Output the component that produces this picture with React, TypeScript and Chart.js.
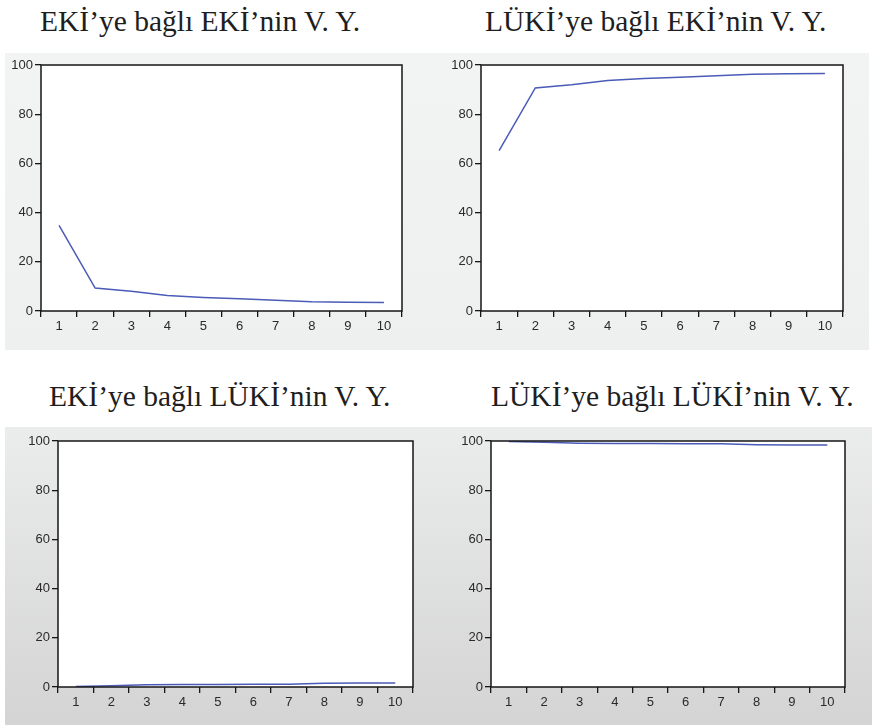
import React, { useEffect, useRef } from "react";
import { Chart, registerables } from "chart.js";

Chart.register(...registerables);

// ---- data ----
const periods = ["1", "2", "3", "4", "5", "6", "7", "8", "9", "10"];
const yTickValues = [0, 20, 40, 60, 80, 100];

const ekiByEki = [34.8, 9.3, 8.0, 6.3, 5.5, 5.0, 4.4, 3.8, 3.6, 3.5];
const ekiByLuki = [65.2, 90.7, 92.0, 93.7, 94.5, 95.0, 95.6, 96.2, 96.4, 96.5];
const lukiByEki = [0.2, 0.5, 0.9, 1.0, 1.0, 1.1, 1.1, 1.5, 1.6, 1.6];
const lukiByLuki = [99.8, 99.5, 99.1, 99.0, 99.0, 98.9, 98.9, 98.5, 98.4, 98.4];

const titleEkiEki = "EKİ’ye bağlı EKİ’nin V. Y.";
const titleLukiEki = "LÜKİ’ye bağlı EKİ’nin V. Y.";
const titleEkiLuki = "EKİ’ye bağlı LÜKİ’nin V. Y.";
const titleLukiLuki = "LÜKİ’ye bağlı LÜKİ’nin V. Y.";

// ---- layout ----
const AXIS_W = 40;
const AXIS_H = 30;
const PAD_T = 12;
const PAD_R = 8;

type Box = { left: number; top: number; right: number; bottom: number };

const framePlugin = {
  id: "frame",
  beforeDraw(chart: any) {
    const { ctx, chartArea: a } = chart;
    ctx.save();
    ctx.fillStyle = "#ffffff";
    ctx.fillRect(a.left, a.top, a.right - a.left, a.bottom - a.top);
    ctx.restore();
  },
  afterDraw(chart: any) {
    const { ctx, chartArea: a } = chart;
    ctx.save();
    ctx.strokeStyle = "#161616";
    ctx.lineWidth = 1.5;
    ctx.strokeRect(a.left, a.top, a.right - a.left, a.bottom - a.top);
    ctx.restore();
  },
};

function Panel({ values, box }: { values: number[]; box: Box }) {
  const ref = useRef<HTMLCanvasElement | null>(null);
  const w = box.right - box.left + AXIS_W + PAD_R;
  const h = box.bottom - box.top + PAD_T + AXIS_H;

  useEffect(() => {
    if (!ref.current) return;
    const tickFont = { family: "'Liberation Sans', Arial, sans-serif", size: 13 };
    const chart = new Chart(ref.current, {
      type: "line",
      data: {
        labels: periods,
        datasets: [
          {
            data: values,
            borderColor: "#4a5bb8",
            borderWidth: 1.5,
            pointRadius: 0,
            tension: 0,
            fill: false,
          },
        ],
      },
      options: {
        animation: false,
        responsive: false,
        maintainAspectRatio: false,
        devicePixelRatio: 1,
        events: [],
        layout: { padding: { top: PAD_T, right: PAD_R, left: 0, bottom: 0 } },
        plugins: {
          legend: { display: false },
          tooltip: { enabled: false },
          title: { display: false },
        },
        scales: {
          x: {
            type: "category",
            offset: true,
            grid: {
              offset: true,
              drawOnChartArea: false,
              drawTicks: true,
              tickLength: 6,
              color: "#161616",
              lineWidth: 1.3,
            },
            border: { display: false },
            ticks: {
              color: "#2a2a2a",
              font: tickFont,
              padding: 2,
              maxRotation: 0,
              autoSkip: false,
            },
            afterFit: (s: any) => {
              s.height = AXIS_H;
            },
          },
          y: {
            min: 0,
            max: 100,
            afterBuildTicks: (s: any) => {
              s.ticks = yTickValues.map((v) => ({ value: v }));
            },
            grid: {
              drawOnChartArea: false,
              drawTicks: true,
              tickLength: 6,
              color: "#161616",
              lineWidth: 1.3,
            },
            border: { display: false },
            ticks: { color: "#2a2a2a", font: tickFont, padding: 2 },
            afterFit: (s: any) => {
              s.width = AXIS_W;
            },
          },
        },
      } as any,
      plugins: [framePlugin],
    });
    return () => chart.destroy();
  }, [values]);

  return (
    <canvas
      ref={ref}
      width={w}
      height={h}
      style={{
        position: "absolute",
        left: box.left - AXIS_W,
        top: box.top - PAD_T,
        width: w,
        height: h,
      }}
    />
  );
}

const TITLE_SIZE = 29.5;
function Title({ text, left, baseline }: { text: string; left: number; baseline: number }) {
  return (
    <div
      style={{
        position: "absolute",
        left,
        top: baseline - TITLE_SIZE * 0.8375,
        fontFamily: "'Liberation Serif', 'Times New Roman', serif",
        fontSize: TITLE_SIZE,
        lineHeight: 1,
        color: "#1e1e1e",
        whiteSpace: "nowrap",
      }}
    >
      {text}
    </div>
  );
}

export default function App() {
  return (
    <div
      style={{
        position: "fixed",
        left: 0,
        top: 0,
        width: 872,
        height: 727,
        background: "#ffffff",
        overflow: "hidden",
      }}
    >
      <div
        style={{
          position: "absolute",
          left: 5,
          top: 53,
          width: 864,
          height: 297,
          background: "linear-gradient(#f2f3f3, #eeefef)",
        }}
      />
      <div
        style={{
          position: "absolute",
          left: 5,
          top: 427,
          width: 867,
          height: 298,
          background: "linear-gradient(#ebecec, #d4d4d4)",
        }}
      />
      <Title text={titleEkiEki} left={40} baseline={32} />
      <Title text={titleLukiEki} left={485} baseline={32} />
      <Title text={titleEkiLuki} left={49} baseline={407} />
      <Title text={titleLukiLuki} left={491} baseline={407} />
      <Panel values={ekiByEki} box={{ left: 41, top: 65, right: 402, bottom: 311 }} />
      <Panel values={ekiByLuki} box={{ left: 481, top: 65, right: 843, bottom: 311 }} />
      <Panel values={lukiByEki} box={{ left: 58, top: 441, right: 413, bottom: 687 }} />
      <Panel values={lukiByLuki} box={{ left: 491, top: 441, right: 845, bottom: 687 }} />
    </div>
  );
}
